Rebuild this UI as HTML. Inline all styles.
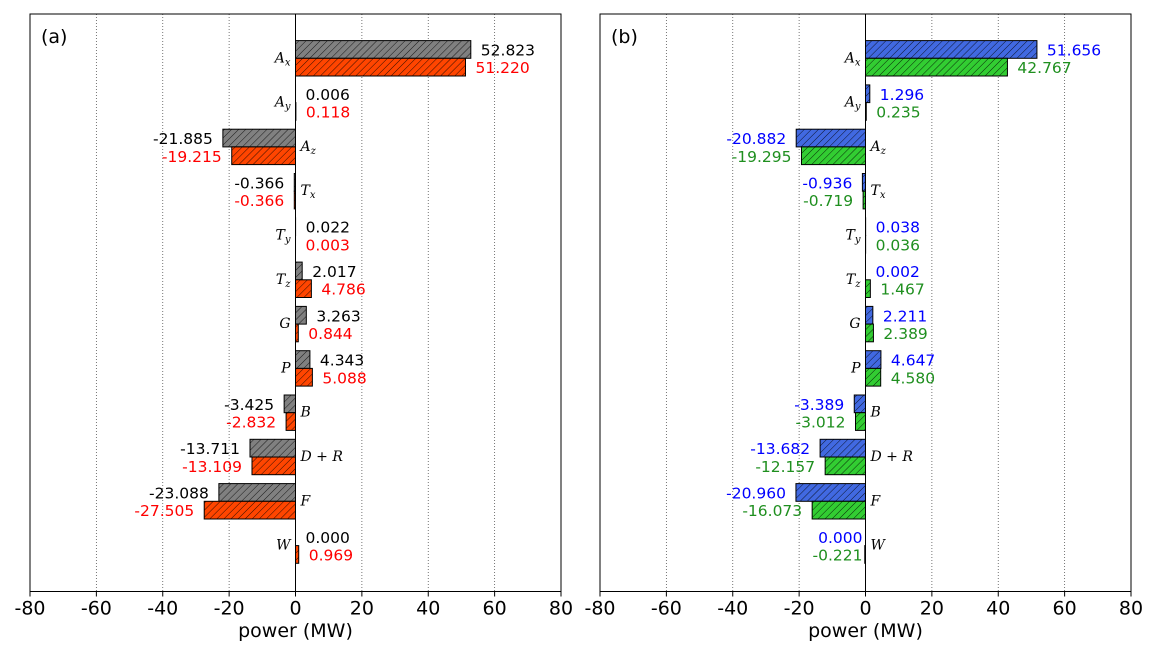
<!DOCTYPE html>
<html><head><meta charset="utf-8"><style>
body{margin:0;background:#fff;}
svg text{font-family:"DejaVu Sans","Liberation Sans",sans-serif;}
.cat{font-family:"DejaVu Serif","Liberation Serif",serif;font-style:italic;font-size:14px;}
</style></head><body>
<svg id="chart" width="1158" height="654" xmlns="http://www.w3.org/2000/svg">
<defs>
<pattern id="hatch" patternUnits="userSpaceOnUse" width="5" height="5" patternTransform="rotate(45)">
<line x1="0" y1="0" x2="0" y2="5" stroke="#000" stroke-width="0.8"/>
</pattern>
</defs>
</svg>
<script>
const categories=["A|x","A|y","A|z","T|x","T|y","T|z","G|","P|","B|","D + R|","F|","W|"];
const catSideA=[-1,-1,1,1,-1,-1,-1,-1,1,1,1,-1];
const catSideB=[-1,-1,1,1,-1,-1,-1,-1,1,1,1,1];
const seriesA1=[52.823,0.006,-21.885,-0.366,0.022,2.017,3.263,4.343,-3.425,-13.711,-23.088,0.000];
const seriesA2=[51.220,0.118,-19.215,-0.366,0.003,4.786,0.844,5.088,-2.832,-13.109,-27.505,0.969];
const seriesB1=[51.656,1.296,-20.882,-0.936,0.038,0.002,2.211,4.647,-3.389,-13.682,-20.960,0.000];
const seriesB2=[42.767,0.235,-19.295,-0.719,0.036,1.467,2.389,4.580,-3.012,-12.157,-16.073,-0.221];
const xTicks=[-80,-60,-40,-20,0,20,40,60,80];
const NS="http://www.w3.org/2000/svg";
const svg=document.getElementById('chart');
function mk(tag,attrs,parent){const e=document.createElementNS(NS,tag);for(const k in attrs)e.setAttribute(k,attrs[k]);(parent||svg).appendChild(e);return e;}
const plotTop=14,plotBottom=591.5,row0=58.3,rowStep=44.3,barH=17.7;
function yRow(i){return row0+i*rowStep;}
function panel(left,right,tag,s1,s2,c1,c2,t1,t2,sides,name){
  const g=mk('g',{});
  
  
  const x=v=>left+(v+80)/160*(right-left);
  xTicks.forEach(t=>{
    if(t!==0&&t!==-80&&t!==80){const l=mk('line',{x1:x(t),x2:x(t),y1:plotTop,y2:plotBottom,stroke:'#555','stroke-width':0.8,'stroke-dasharray':'1,2'},g);
    
    }
    const tk=mk('line',{x1:x(t),x2:x(t),y1:plotBottom,y2:plotBottom+5,stroke:'#000'},g);
    
    
    const tl=mk('text',{x:x(t),y:plotBottom+23,'text-anchor':'middle','font-size':'19'},g);
    tl.textContent=t;
    
    
  });
  const z=mk('line',{x1:x(0),x2:x(0),y1:plotTop,y2:plotBottom,stroke:'#000','stroke-width':1},g);
  
  
  [[s1,c1,t1,0],[s2,c2,t2,1]].forEach(([s,col,tc,k])=>{
    s.forEach((v,i)=>{
      const y0=yRow(i)-barH+k*barH;
      const x0=Math.min(x(0),x(v)),w=Math.abs(x(v)-x(0));
      const r=mk('rect',{x:x0,y:y0,width:w,height:barH,fill:col,stroke:'#000','stroke-width':1},g);
      
      
      const h=mk('rect',{x:x0,y:y0,width:w,height:barH,fill:'url(#hatch)'},g);
      
      
      let lx,anc;
      if(tag==='(b)'&&i===11){lx=x(0)-3;anc='end';}
      else if(v>=0){lx=x(v)+10;anc='start';}else{lx=x(v)-10;anc='end';}
      const tx=mk('text',{x:lx,y:y0+barH/2+6,'text-anchor':anc,'font-size':'15.5',fill:tc},g);
      tx.textContent=v.toFixed(3);
      
      
    });
  });
  categories.forEach((c,i)=>{
    const [b,sub]=c.split('|');
    const side=sides[i];
    const t=mk('text',{x:x(0)+side*5,y:yRow(i)+4,'text-anchor':side<0?'end':'start',class:'cat'},g);
    
    
    t.appendChild(document.createTextNode(b));
    if(sub){const ts=mk('tspan',{'font-size':'10',dy:'3'},t);ts.textContent=sub;}
  });
  const fr=mk('rect',{x:left,y:plotTop,width:right-left,height:plotBottom-plotTop,fill:'none',stroke:'#000','stroke-width':1},g);
  
  
  const pl=mk('text',{x:left+11,y:43,'font-size':'19'},g);
  pl.textContent=tag;
  
  
  const xl=mk('text',{x:x(0),y:637,'text-anchor':'middle','font-size':'19'},g);
  xl.textContent='power (MW)';
  
  
}
panel(30,561,'(a)',seriesA1,seriesA2,'#808080','#ff4500','#000','#ff0000',catSideA,'panel-a');
panel(600,1131,'(b)',seriesB1,seriesB2,'#4169e1','#32cd32','#0000ff','#1f8f1f',catSideB,'panel-b');
</script>
</body></html>
